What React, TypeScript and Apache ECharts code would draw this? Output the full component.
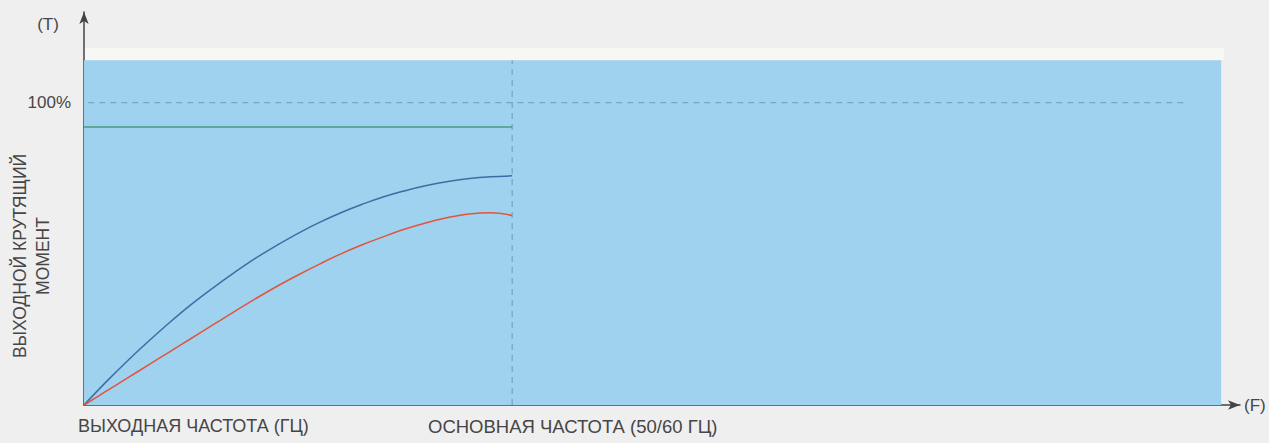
import React, { useEffect, useRef } from "react";
import * as echarts from "echarts";

// frequency (Hz) samples along the curves
const freqs = [0, 2.5, 5, 7.5, 10, 12.5, 15, 17.5, 20, 22.5, 25, 27.5, 30, 32.5, 35, 37.5, 40, 42.5, 45, 47.5, 50];
// output torque, % of rated
const blueTorque = [0, 7.4, 14.4, 21, 27.3, 33.2, 38.6, 43.7, 48.5, 52.8, 56.8, 60.4, 63.6, 66.4, 68.9, 70.9, 72.6, 73.9, 74.9, 75.5, 75.8];
const redTorque = [0, 4.4, 8.8, 13.2, 17.6, 22, 26.4, 30.8, 35.1, 39.2, 43, 46.6, 50, 53, 55.7, 58.2, 60.3, 62, 63.2, 63.6, 62.7];
const greenTorque = [92, 92];
const greenFreqs = [0, 50];
const baseFreq = 50;
const ratedTorque = 100;
const regionMaxFreq = 132.8;
const regionMaxTorque = 114;
const ratedLineEnd = 128.6;
const xMax = 135;
const yMax = 130;

const yAxisTitle1 = "ВЫХОДНОЙ КРУТЯЩИЙ";
const yAxisTitle2 = "МОМЕНТ";
const xLabelLeft = "ВЫХОДНАЯ ЧАСТОТА (ГЦ)";
const xLabelBase = "ОСНОВНАЯ ЧАСТОТА (50/60 ГЦ)";

export default function App() {
  const ref = useRef<HTMLDivElement>(null);
  useEffect(() => {
    if (!ref.current) return;
    const chart = echarts.init(ref.current, null, { renderer: "svg" });
    const font = "Liberation Sans, Arial, sans-serif";
    const textColor = "#464646";
    chart.setOption({
      animation: false,
      backgroundColor: "#efefef",
      grid: { left: 84, right: 29, top: 12, bottom: 38 },
      xAxis: {
        type: "value",
        min: 0,
        max: xMax,
        name: "(F)",
        nameLocation: "end",
        nameGap: 4,
        nameTextStyle: { color: textColor, fontSize: 17, fontFamily: font },
        axisLine: {
          show: true,
          symbol: ["none", "arrow"],
          symbolSize: [7, 12],
          lineStyle: { color: "#444444", width: 1.5 },
        },
        axisTick: { show: false },
        axisLabel: { show: false },
        splitLine: { show: false },
      },
      yAxis: {
        type: "value",
        min: 0,
        max: yMax,
        interval: 10,
        axisLine: {
          show: true,
          symbol: ["none", "arrow"],
          symbolSize: [7, 12],
          lineStyle: { color: "#444444", width: 1.5 },
        },
        axisTick: { show: false },
        axisLabel: {
          show: true,
          margin: 13,
          color: textColor,
          fontSize: 17,
          fontFamily: font,
          formatter: (v: number) => (v === ratedTorque ? "100%" : ""),
        },
        splitLine: { show: false },
      },
      graphic: [
        {
          type: "rect",
          shape: { x: 84, y: 48, width: 1140, height: 12 },
          style: { fill: "#f7f7f4" },
          z: 0,
        },
        {
          type: "text",
          x: 48,
          y: 24,
          style: {
            text: "(T)",
            fill: textColor,
            fontSize: 17,
            fontFamily: font,
            align: "center",
            verticalAlign: "middle",
          },
        },
        {
          type: "text",
          x: 20,
          y: 256,
          rotation: Math.PI / 2,
          style: {
            text: yAxisTitle1,
            fill: textColor,
            fontSize: 17.5,
            fontFamily: font,
            align: "center",
            verticalAlign: "middle",
          },
        },
        {
          type: "text",
          x: 43,
          y: 256,
          rotation: Math.PI / 2,
          style: {
            text: yAxisTitle2,
            fill: textColor,
            fontSize: 17.5,
            fontFamily: font,
            align: "center",
            verticalAlign: "middle",
          },
        },
        {
          type: "text",
          x: 78,
          y: 426,
          style: {
            text: xLabelLeft,
            fill: textColor,
            fontSize: 18,
            fontFamily: font,
            align: "left",
            verticalAlign: "middle",
          },
        },
        {
          type: "text",
          x: 428,
          y: 426,
          style: {
            text: xLabelBase,
            fill: textColor,
            fontSize: 18.5,
            fontFamily: font,
            align: "left",
            verticalAlign: "middle",
          },
        },
      ],
      series: [
        {
          type: "line",
          data: [],
          markArea: {
            silent: true,
            itemStyle: { color: "#9ed2ef", opacity: 1 },
            data: [[{ coord: [0, 0] }, { coord: [regionMaxFreq, regionMaxTorque] }]],
          },
          z: 1,
        },
        {
          type: "line",
          data: [
            [0.5, ratedTorque],
            [ratedLineEnd, ratedTorque],
          ],
          symbol: "none",
          lineStyle: { color: "#7099ba", width: 1, type: [6, 5] },
          z: 2,
        },
        {
          type: "line",
          data: [
            [baseFreq, 0],
            [baseFreq, regionMaxTorque],
          ],
          symbol: "none",
          lineStyle: { color: "#7099ba", width: 1, type: [6, 5] },
          z: 2,
        },
        {
          type: "line",
          data: greenFreqs.map((f, i) => [f, greenTorque[i]]),
          symbol: "none",
          lineStyle: { color: "#4a9a80", width: 1.5 },
          z: 3,
        },
        {
          type: "line",
          data: freqs.map((f, i) => [f, blueTorque[i]]),
          symbol: "none",
          smooth: 0.4,
          lineStyle: { color: "#3f6da3", width: 1.5 },
          z: 3,
        },
        {
          type: "line",
          data: freqs.map((f, i) => [f, redTorque[i]]),
          symbol: "none",
          smooth: 0.4,
          lineStyle: { color: "#e2543c", width: 1.5 },
          z: 3,
        },
      ],
    });
    return () => chart.dispose();
  }, []);
  return (
    <div
      ref={ref}
      style={{ position: "fixed", left: 0, top: 0, width: 1269, height: 443 }}
    />
  );
}
